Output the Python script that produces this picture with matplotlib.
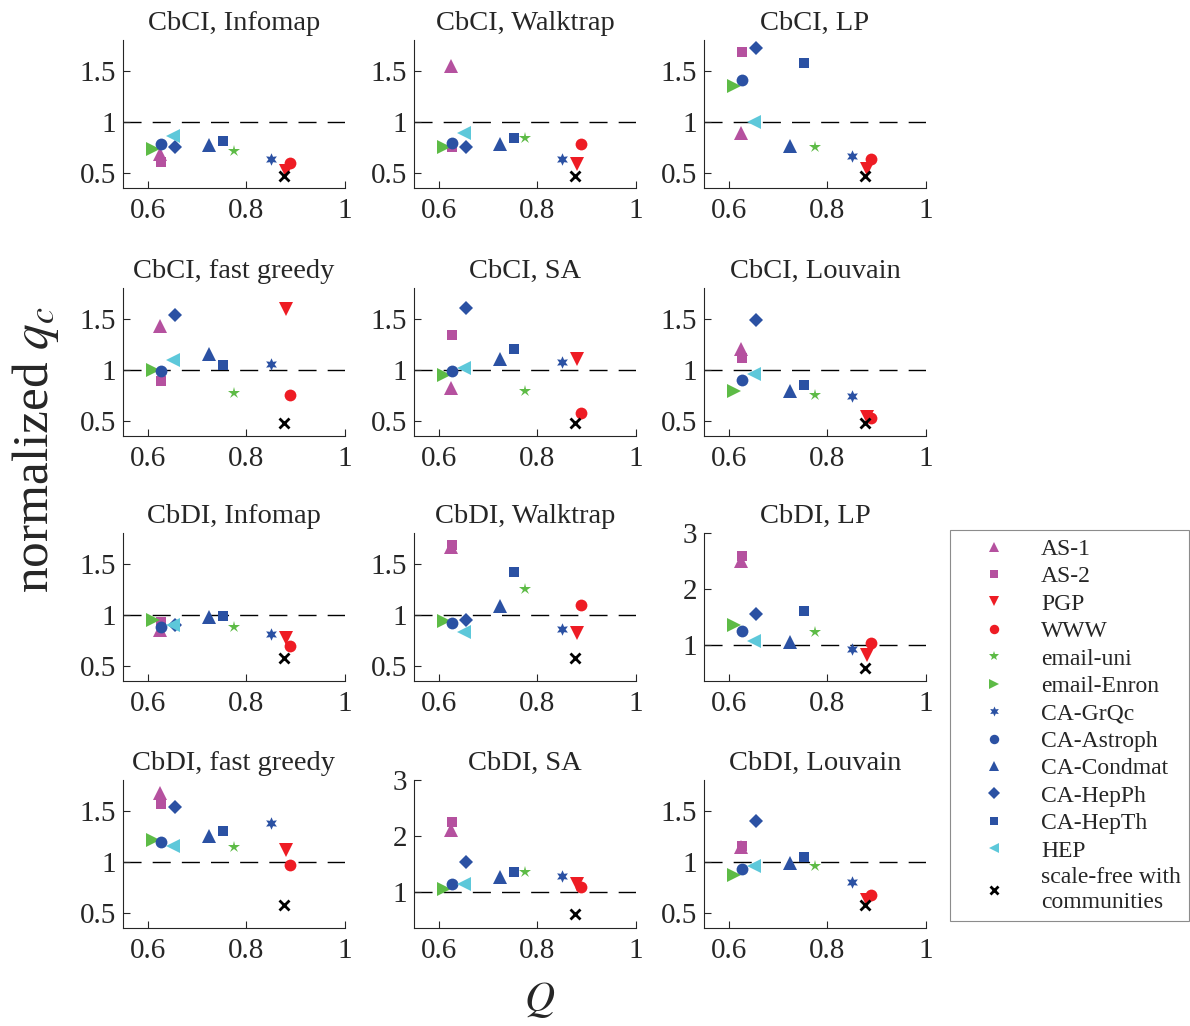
import numpy as np
import matplotlib
matplotlib.use('Agg')
import matplotlib.pyplot as plt
from matplotlib.lines import Line2D

plt.rcParams['font.family'] = ['Liberation Serif', 'DejaVu Serif']
plt.rcParams['mathtext.fontset'] = 'stix'

# networks, in legend order
networks = ['AS-1', 'AS-2', 'PGP', 'WWW', 'email-uni', 'email-Enron', 'CA-GrQc',
            'CA-Astroph', 'CA-Condmat', 'CA-HepPh', 'CA-HepTh', 'HEP',
            'scale-free with\ncommunities']
Q = [0.624, 0.628, 0.880, 0.888, 0.776, 0.610, 0.849, 0.628, 0.725, 0.656, 0.753, 0.651, 0.876]

# normalized q_c per panel (same network order)
cbci_infomap = [0.68, 0.60, 0.52, 0.595, 0.71, 0.73, 0.63, 0.785, 0.775, 0.75, 0.81, 0.86, 0.47]
cbci_walktrap = [1.55, 0.75, 0.59, 0.785, 0.84, 0.75, 0.63, 0.79, 0.78, 0.75, 0.84, 0.89, 0.47]
cbci_lp = [0.885, 1.68, 0.54, 0.63, 0.75, 1.35, 0.665, 1.405, 0.76, 1.72, 1.575, 1.0, 0.47]
cbci_fastgreedy = [1.43, 0.885, 1.59, 0.755, 0.77, 1.0, 1.055, 0.985, 1.15, 1.54, 1.045, 1.095, 0.475]
cbci_sa = [0.82, 1.335, 1.1, 0.58, 0.79, 0.95, 1.075, 0.985, 1.1, 1.6, 1.2, 1.016, 0.475]
cbci_louvain = [1.2, 1.115, 0.54, 0.53, 0.755, 0.795, 0.74, 0.9, 0.79, 1.49, 0.845, 0.955, 0.475]
cbdi_infomap = [0.85, 0.93, 0.77, 0.69, 0.88, 0.95, 0.815, 0.88, 0.975, 0.9, 0.99, 0.895, 0.575]
cbdi_walktrap = [1.66, 1.685, 0.82, 1.09, 1.25, 0.935, 0.86, 0.92, 1.08, 0.95, 1.42, 0.83, 0.58]
cbdi_lp = [2.5, 2.58, 0.82, 1.035, 1.23, 1.35, 0.93, 1.25, 1.04, 1.55, 1.61, 1.06, 0.58]
cbdi_fastgreedy = [1.67, 1.56, 1.115, 0.965, 1.14, 1.21, 1.38, 1.19, 1.255, 1.54, 1.30, 1.155, 0.58]
cbdi_sa = [2.1, 2.25, 1.13, 1.08, 1.35, 1.04, 1.29, 1.14, 1.26, 1.53, 1.35, 1.14, 0.6]
cbdi_louvain = [1.14, 1.15, 0.62, 0.67, 0.96, 0.87, 0.80, 0.93, 0.99, 1.40, 1.05, 0.96, 0.58]

titles = ['CbCI, Infomap', 'CbCI, Walktrap', 'CbCI, LP',
          'CbCI, fast greedy', 'CbCI, SA', 'CbCI, Louvain',
          'CbDI, Infomap', 'CbDI, Walktrap', 'CbDI, LP',
          'CbDI, fast greedy', 'CbDI, SA', 'CbDI, Louvain']
panels = [cbci_infomap, cbci_walktrap, cbci_lp, cbci_fastgreedy, cbci_sa, cbci_louvain,
          cbdi_infomap, cbdi_walktrap, cbdi_lp, cbdi_fastgreedy, cbdi_sa, cbdi_louvain]

MAG, RED, GRN, BLU, CYN = '#B5519F', '#EE1C24', '#5DBB46', '#2B51A3', '#5DC8DA'
colors = [MAG, MAG, RED, RED, GRN, GRN, BLU, BLU, BLU, BLU, BLU, CYN, 'k']
markers = ['^', 's', 'v', 'o', '*', '>', (6, 1, 0), 'o', '^', 'D', 's', '<', 'x']
sizes = [9.5, 7.5, 9.5, 8.5, 9, 9.5, 9, 8.5, 9.5, 7.5, 7.5, 9.5, 7]

TXT = '#262626'
W, H = 1190, 1026
fig = plt.figure(figsize=(W / 100, H / 100), dpi=100)

lefts = [123, 414, 704]
tops = [40, 288, 533, 780]
aw, ah = 222, 148

for i, (vals, title) in enumerate(zip(panels, titles)):
    r, c = divmod(i, 3)
    ax = fig.add_axes([lefts[c] / W, 1 - (tops[r] + ah) / H, aw / W, ah / H])
    big = title in ('CbDI, LP', 'CbDI, SA')
    ax.axhline(1, color='k', lw=1, ls=(0, (13, 8)), zorder=1)
    for q, v, col, m, ms in zip(Q, vals, colors, markers, sizes):
        mew = 2 if m == 'x' else 0
        ax.plot(q, v, ls='none', marker=m, color=col, ms=ms, mew=mew, zorder=3)
    ax.set_xlim(0.55, 1.0)
    ax.set_xticks([0.6, 0.8, 1.0])
    ax.set_xticklabels(['0.6', '0.8', '1'])
    if big:
        ax.set_ylim(0.35, 3)
        ax.set_yticks([1, 2, 3])
        ax.set_yticklabels(['1', '2', '3'])
    else:
        ax.set_ylim(0.35, 1.8)
        ax.set_yticks([0.5, 1, 1.5])
        ax.set_yticklabels(['0.5', '1', '1.5'])
    for s in ('top', 'right'):
        ax.spines[s].set_visible(False)
    for s in ('left', 'bottom'):
        ax.spines[s].set_color(TXT)
        ax.spines[s].set_linewidth(0.8)
    ax.tick_params(direction='in', length=5, width=0.8, colors=TXT, labelsize=21)
    ax.tick_params(axis='x', pad=7)
    ax.tick_params(axis='y', pad=5)
    ax.set_title(title, fontsize=20.5, color=TXT, pad=7)

fig.text(36 / W, 1 - 450 / H, r'normalized $q_c$', rotation=90, fontsize=37,
         color=TXT, ha='center', va='center')
fig.text(540 / W, 1 - 1000 / H, r'$Q$', fontsize=30, color=TXT, ha='center', va='center')

handles = [Line2D([], [], ls='none', marker=m, color=col, ms=ms * 0.8,
                  mew=(2 if m == 'x' else 0))
           for m, col, ms in zip(markers, colors, sizes)]
leg = fig.legend(handles, networks, loc='upper left',
                 bbox_to_anchor=(950 / W, 1 - 530 / H), fontsize=17,
                 frameon=True, fancybox=False, edgecolor='#707070',
                 handlelength=3.0, handletextpad=0.5, labelspacing=0.25,
                 borderpad=0.35, borderaxespad=0)
leg.get_frame().set_linewidth(0.8)
for t in leg.get_texts():
    t.set_color(TXT)

fig.savefig('out.png', dpi=100)
